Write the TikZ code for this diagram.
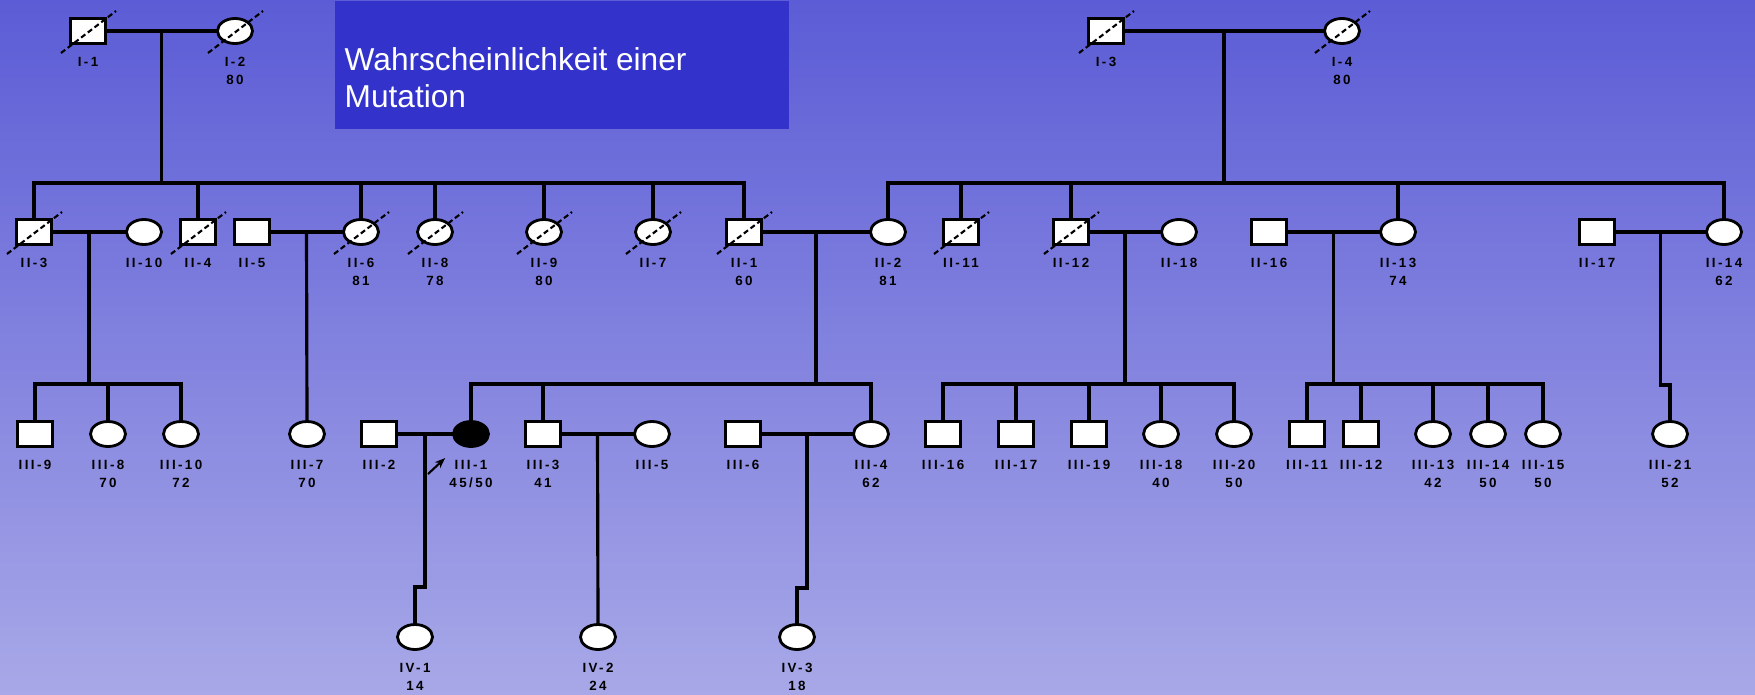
\documentclass[tikz,border=0pt]{standalone}
\usepackage{fontspec}
\setmainfont{Liberation Sans}
\newfontfamily\pedfont[LetterSpace=18]{Liberation Sans}
\usetikzlibrary{shapes.geometric,arrows.meta,calc}

\definecolor{bgtop}{RGB}{92,92,214}
\definecolor{bgbot}{RGB}{168,168,232}
\definecolor{boxblue}{RGB}{51,51,204}

\begin{document}
\begin{tikzpicture}[x=0.01cm, y=-0.01cm, label distance=0.12cm,
    male/.style={draw, line width=0.8pt, fill=white, minimum width=0.35cm, minimum height=0.25cm, inner sep=0pt},
    female/.style={draw, line width=0.8pt, fill=white, ellipse, minimum width=0.35cm, minimum height=0.25cm, inner sep=0pt},
    pedlbl/.style={font=\pedfont\bfseries\fontsize{3.8}{5}\selectfont, align=center, inner sep=0pt},
    rel/.style={line width=0.9pt, line cap=rect},
    dead/.style={line width=0.6pt, dash pattern=on 1.5pt off 0.9pt}]

    % Background
    \useasboundingbox (0,0) rectangle (1755,694);
    \shade[top color=bgtop, bottom color=bgbot] (0,0) rectangle (1755,694);

    % Text box
    \node[fill=boxblue, anchor=north west, minimum width=4.54cm, minimum height=1.28cm, inner sep=0pt] (infobox) at (334,0) {};
    \node[anchor=north west, inner sep=0pt, align=left, text=white, font=\fontsize{9}{10.4}\selectfont] (infotext) at (344,47) {Wahrscheinlichkeit einer\\Mutation};

    % Generation I
    \node[male, label={[pedlbl]below:I-1}] (I1) at (88,31) {};
    \node[female, label={[pedlbl]below:{I-2\\80}}] (I2) at (235,31) {};
    \node[male, label={[pedlbl]below:I-3}] (I3) at (1106,31) {};
    \node[female, label={[pedlbl]below:{I-4\\80}}] (I4) at (1342,31) {};

    % Generation II
    \node[male, label={[pedlbl]below:II-3}] (II3) at (34,232) {};
    \node[female, label={[pedlbl]below:II-10}] (II10) at (144,232) {};
    \node[male, label={[pedlbl]below:II-4}] (II4) at (198,232) {};
    \node[male, label={[pedlbl]below:II-5}] (II5) at (252,232) {};
    \node[female, label={[pedlbl]below:{II-6\\81}}] (II6) at (361,232) {};
    \node[female, label={[pedlbl]below:{II-8\\78}}] (II8) at (435,232) {};
    \node[female, label={[pedlbl]below:{II-9\\80}}] (II9) at (544,232) {};
    \node[female, label={[pedlbl]below:II-7}] (II7) at (653,232) {};
    \node[male, label={[pedlbl]below:{II-1\\60}}] (II1) at (744,232) {};
    \node[female, label={[pedlbl]below:{II-2\\81}}] (II2) at (888,232) {};
    \node[male, label={[pedlbl]below:II-11}] (II11) at (961,232) {};
    \node[male, label={[pedlbl]below:II-12}] (II12) at (1071,232) {};
    \node[female, label={[pedlbl]below:II-18}] (II18) at (1179,232) {};
    \node[male, label={[pedlbl]below:II-16}] (II16) at (1269,232) {};
    \node[female, label={[pedlbl]below:{II-13\\74}}] (II13) at (1398,232) {};
    \node[male, label={[pedlbl]below:II-17}] (II17) at (1597,232) {};
    \node[female, label={[pedlbl]below:{II-14\\62}}] (II14) at (1724,232) {};

    % Generation III
    \node[male, label={[pedlbl]below:III-9}] (III9) at (35,434) {};
    \node[female, label={[pedlbl]below:{III-8\\70}}] (III8) at (108,434) {};
    \node[female, label={[pedlbl]below:{III-10\\72}}] (III10) at (181,434) {};
    \node[female, label={[pedlbl]below:{III-7\\70}}] (III7) at (307,434) {};
    \node[male, label={[pedlbl]below:III-2}] (III2) at (379,434) {};
    \node[female, fill=black, label={[pedlbl]below:{III-1\\45/50}}] (III1) at (471,434) {};
    \node[male, label={[pedlbl]below:{III-3\\41}}] (III3) at (543,434) {};
    \node[female, label={[pedlbl]below:III-5}] (III5) at (652,434) {};
    \node[male, label={[pedlbl]below:III-6}] (III6) at (743,434) {};
    \node[female, label={[pedlbl]below:{III-4\\62}}] (III4) at (871,434) {};
    \node[male, label={[pedlbl]below:III-16}] (III16) at (943,434) {};
    \node[male, label={[pedlbl]below:III-17}] (III17) at (1016,434) {};
    \node[male, label={[pedlbl]below:III-19}] (III19) at (1089,434) {};
    \node[female, label={[pedlbl]below:{III-18\\40}}] (III18) at (1161,434) {};
    \node[female, label={[pedlbl]below:{III-20\\50}}] (III20) at (1234,434) {};
    \node[male, label={[pedlbl]below:III-11}] (III11) at (1307,434) {};
    \node[male, label={[pedlbl]below:III-12}] (III12) at (1361,434) {};
    \node[female, label={[pedlbl]below:{III-13\\42}}] (III13) at (1433,434) {};
    \node[female, label={[pedlbl]below:{III-14\\50}}] (III14) at (1488,434) {};
    \node[female, label={[pedlbl]below:{III-15\\50}}] (III15) at (1543,434) {};
    \node[female, label={[pedlbl]below:{III-21\\52}}] (III21) at (1670,434) {};

    % Generation IV
    \node[female, label={[pedlbl]below:{IV-1\\14}}] (IV1) at (415,637) {};
    \node[female, label={[pedlbl]below:{IV-2\\24}}] (IV2) at (598,637) {};
    \node[female, label={[pedlbl]below:{IV-3\\18}}] (IV3) at (797,637) {};

    % Deceased
    \foreach \p in {I1,I2,I3,I4,II3,II4,II6,II8,II9,II7,II1,II11,II12}
        \draw[dead] ([shift={(-27,22)}]\p.center) -- ([shift={(28,-20)}]\p.center);

    % Couples
    \foreach \a/\b in {I1/I2, I3/I4, II3/II10, II5/II6, II1/II2, II12/II18, II16/II13, II17/II14, III2/III1, III3/III5, III6/III4}
        \draw[rel] (\a.east) -- (\b.west);

    \coordinate (famA) at ($(I1)!0.5!(I2)$);
    \coordinate (famB) at ($(I3)!0.5!(I4)$);
    \coordinate (famC) at ($(II3)!0.5!(II10)$);
    \coordinate (famD) at ($(II5)!0.5!(II6)$);
    \coordinate (famE) at ($(II1)!0.5!(II2)$);
    \coordinate (famF) at ($(II12)!0.5!(II18)$);
    \coordinate (famG) at ($(II16)!0.5!(II13)$);
    \coordinate (famH) at ($(II17)!0.5!(II14)$);
    \coordinate (famI) at ($(III2)!0.5!(III1)$);
    \coordinate (famJ) at ($(III3)!0.5!(III5)$);
    \coordinate (famK) at ($(III6)!0.5!(III4)$);
    \coordinate (lvlII) at (0,183);
    \coordinate (lvlIII) at (0,384);

    % Sibships
    \foreach \f/\l/\first/\last/\kids in {
        famA/lvlII/II3/II1/{II3,II4,II6,II8,II9,II7,II1},
        famB/lvlII/II2/II14/{II2,II11,II12,II13,II14},
        famC/lvlIII/III9/III10/{III9,III8,III10},
        famE/lvlIII/III1/III4/{III1,III3,III4},
        famF/lvlIII/III16/III20/{III16,III17,III19,III18,III20},
        famG/lvlIII/III11/III15/{III11,III12,III13,III14,III15}} {
        \draw[rel] (\f) -- (\f |- \l);
        \draw[rel] (\first.north |- \l) -- (\last.north |- \l);
        \foreach \k in \kids
            \draw[rel] (\k.north) -- (\k.north |- \l);
    }

    % Single children
    \coordinate (jogH) at (1670,385);
    \coordinate (jogI) at (415,587);
    \coordinate (jogK) at (797,588);
    \draw[rel] (famD) -- (III7.north);
    \draw[rel] (famJ) -- (IV2.north);
    \draw[rel] (famH) |- (jogH) -- (III21.north);
    \draw[rel] (famI) |- (jogI) -- (IV1.north);
    \draw[rel] (famK) |- (jogK) -- (IV3.north);

    % Proband
    \coordinate (prob) at (428,474);
    \draw[line width=0.6pt, -{Stealth[length=3pt]}] (prob) -- ($(prob)!0.4!(III1)$);
\end{tikzpicture}
\end{document}
